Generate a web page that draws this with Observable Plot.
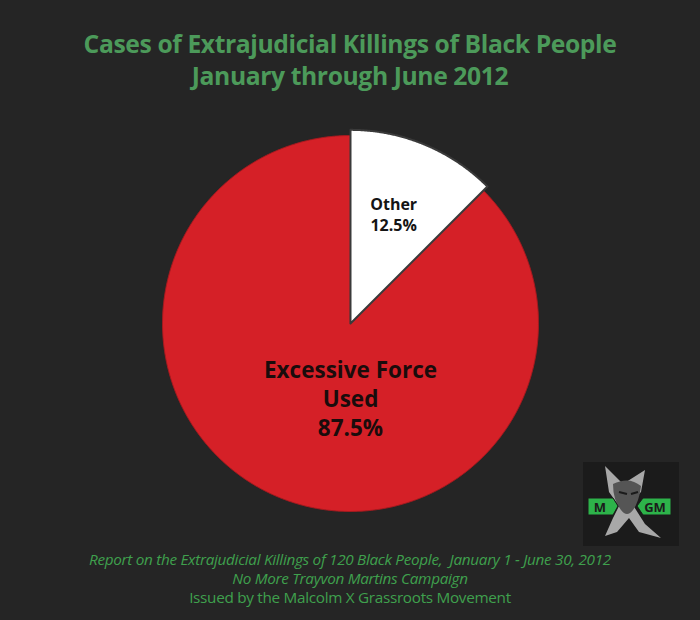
<!DOCTYPE html>
<html>
<head>
<meta charset="utf-8">
<script src="https://cdn.jsdelivr.net/npm/d3@7"></script>
<script src="https://cdn.jsdelivr.net/npm/@observablehq/plot@0.6"></script>
<style>
  html, body { margin: 0; padding: 0; background: #252525; }
  #wrap { position: relative; width: 700px; height: 620px; background: #252525; overflow: hidden; font-family: "Open Sans", sans-serif; }
  #title { position: absolute; top: 28px; left: 0; width: 700px; text-align: center; color: #4c9a5a; font-weight: 700; font-size: 24.7px; line-height: 32px; letter-spacing: -0.4px; }
  #chart { position: absolute; top: 100px; left: 0; }
  #footer { position: absolute; top: 550px; left: 0; width: 700px; text-align: center; color: #3fa04d; font-size: 15.3px; line-height: 19px; letter-spacing: -0.3px; }
  #footer .it { font-style: italic; }
  #logo { position: absolute; left: 583px; top: 462px; }
</style>
</head>
<body>
<div id="wrap">
  <div id="title"></div>
  <div id="chart"></div>
  <div id="footer"></div>
  <svg id="logo" width="96" height="84" viewBox="0 0 96 84">
    <rect x="0" y="0" width="96" height="84" fill="#1b1b1b"/>
    <path d="M22,4 L40,22 L62,8 L58,30 L48,40 L62,62 L78,76 L56,70 L46,56 L34,70 L22,74 L30,56 L36,44 L26,30 Z" fill="#a8a8a8"/>
    <path d="M30,22 Q46,14 58,24 Q56,40 50,48 Q44,56 38,48 Q30,38 30,22 Z" fill="#555"/>
    <path d="M36,30 L44,32 M48,32 L55,30" stroke="#1b1b1b" stroke-width="2"/>
    <path d="M5,36 L30,36 L35,44 L30,53 L5,53 Z" fill="#2db34a" stroke="#1b1b1b" stroke-width="1"/>
    <text x="17" y="50" font-family="Open Sans" font-weight="700" font-size="13" fill="#1b1b1b" text-anchor="middle">M</text>
    <path d="M60,36 L88,36 L88,53 L60,53 L54,44 Z" fill="#2db34a" stroke="#1b1b1b" stroke-width="1"/>
    <text x="72" y="50" font-family="Open Sans" font-weight="700" font-size="13" fill="#1b1b1b" text-anchor="middle">GM</text>
  </svg>
</div>
<script>
// ---- data ----
const categories = ["Other", "Excessive Force Used"];
const values = [12.5, 87.5];
const labelLines = [["Other"], ["Excessive Force", "Used"]];
const sliceColors = ["#ffffff", "#d52027"];
const titleLines = ["Cases of Extrajudicial Killings of Black People", "January through June 2012"];
const footerLines = [
  "Report on the Extrajudicial Killings of 120 Black People,  January 1 - June 30, 2012",
  "No More Trayvon Martins Campaign",
  "Issued by the Malcolm X Grassroots Movement"
];

// ---- text blocks ----
document.getElementById("title").innerHTML = titleLines.map(t => `<div>${t}</div>`).join("");
document.getElementById("footer").innerHTML = footerLines
  .map((t, i) => `<div class="${i < 2 ? "it" : ""}">${t.replace(/  /g, " &nbsp;")}</div>`).join("");

// ---- pie geometry ----
const W = 700, H = 445, R = 188, cx = 350, cy = 223;
const rows = categories.map((c, i) => ({category: c, value: values[i], lines: labelLines[i]}));
const arcs = d3.pie().sort(null).value(d => d.value)(rows);

const outline = [];
arcs.forEach((a, i) => {
  const r = a.data.value < 25 ? 1.03 : 1; // small slice drawn slightly proud, as in the original
  outline.push({category: a.data.category, x: 0, y: 0});
  const n = Math.ceil((a.endAngle - a.startAngle) / 0.005);
  for (let k = 0; k <= n; ++k) {
    const t = a.startAngle + (a.endAngle - a.startAngle) * k / n;
    outline.push({category: a.data.category, x: r * Math.sin(t), y: r * Math.cos(t)});
  }
});

const labels = arcs.map(a => {
  const mid = (a.startAngle + a.endAngle) / 2;
  const small = a.data.value < 25;
  return {
    category: a.data.category,
    text: [...a.data.lines, a.data.value + "%"].join("\n"),
    x: small ? 0.6 * Math.sin(mid) : 0,
    y: small ? 0.63 * Math.cos(mid) : -0.394,
    small
  };
});

const chart = Plot.plot({
  width: W, height: H,
  margin: 0,
  x: {domain: [-cx / R, (W - cx) / R], axis: null},
  y: {domain: [-(H - cy) / R, cy / R], axis: null},
  color: {domain: categories, range: sliceColors},
  style: {background: "transparent", overflow: "visible"},
  marks: [
    Plot.line(outline.filter(d => d.category !== "Other"), {x: "x", y: "y", z: "category", fill: "category", stroke: "#a81a1f", strokeWidth: 1, curve: "linear-closed"}),
    Plot.line(outline.filter(d => d.category === "Other"), {x: "x", y: "y", z: "category", fill: "category", stroke: "#3a3a3a", strokeWidth: 2, curve: "linear-closed"}),
    Plot.text(labels.filter(d => d.small), {x: "x", y: "y", text: "text", fontSize: 16, fontWeight: 700, fill: "#141414", lineHeight: 1.28, fontFamily: "Open Sans", textAnchor: "middle"}),
    Plot.text(labels.filter(d => !d.small), {x: "x", y: "y", text: "text", fontSize: 22.5, fontWeight: 700, fill: "#1a0c0c", lineHeight: 1.3, fontFamily: "Open Sans", textAnchor: "middle"})
  ]
});
document.getElementById("chart").appendChild(chart);
</script>
</body>
</html>
